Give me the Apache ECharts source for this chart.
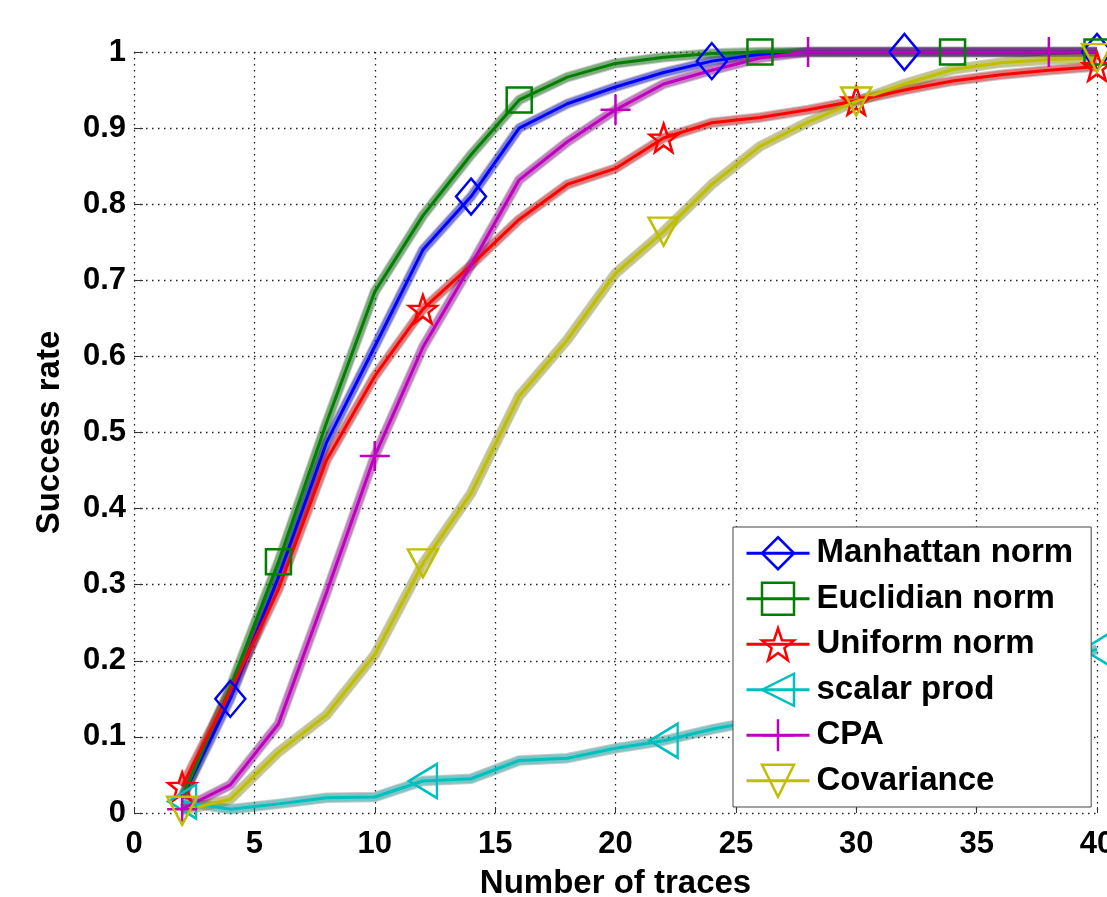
<!DOCTYPE html>
<html>
<head>
<meta charset="utf-8">
<script src="https://cdn.jsdelivr.net/npm/echarts@6/dist/echarts.min.js"></script>
<style>
html,body{margin:0;padding:0;background:#fff;}
#chart{width:1107px;height:897px;}
</style>
</head>
<body>
<div id="chart"></div>
<script>
// ---- data ----
const xValues = [2,4,6,8,10,12,14,16,18,20,22,24,26,28,30,32,34,36,38,40];
const seriesNames = ['Manhattan norm','Euclidian norm','Uniform norm','scalar prod','CPA','Covariance'];
const manhattan  = [0.02,0.15,0.31,0.487,0.613,0.74,0.81,0.90,0.932,0.954,0.973,0.988,0.997,1,1,1,1,1,1,1];
const euclidian  = [0.02,0.165,0.33,0.513,0.685,0.785,0.865,0.937,0.967,0.985,0.993,0.998,1,1,1,1,1,1,1,1];
const uniform    = [0.035,0.16,0.294,0.464,0.574,0.662,0.72,0.78,0.826,0.847,0.887,0.907,0.914,0.924,0.936,0.95,0.962,0.97,0.976,0.981];
const scalarProd = [0.015,0.005,0.012,0.02,0.021,0.042,0.045,0.069,0.072,0.085,0.095,0.11,0.122,0.133,0.146,0.158,0.17,0.184,0.199,0.215];
const cpa        = [0.005,0.037,0.117,0.29,0.469,0.612,0.72,0.832,0.882,0.924,0.958,0.976,0.992,1,1,1,1,1,1,1];
const covariance = [0.003,0.018,0.08,0.129,0.208,0.328,0.42,0.548,0.622,0.709,0.764,0.826,0.876,0.908,0.935,0.958,0.977,0.986,0.99,0.992];
// x positions at which each series shows its marker
const manhattanMarks  = [4,14,24,32,40];
const euclidianMarks  = [6,16,26,34,40];
const uniformMarks    = [2,12,22,30,40];
const scalarMarks     = [2,12,22,30,40];
const cpaMarks        = [2,10,20,28,38];
const covarianceMarks = [2,12,22,30,40];
const xTickLabels = ['0','5','10','15','20','25','30','35','40'];
const yTickLabels = ['0','0.1','0.2','0.3','0.4','0.5','0.6','0.7','0.8','0.9','1'];

// ---- styles ----
const FONT = '"Liberation Sans", Arial, Helvetica, sans-serif';
const styles = [
  {color:'#0000ff', band:'rgba(0,0,255,0.38)', symbol:'path://M0,-6L5,0L0,6L-5,0Z', size:[30,36]},
  {color:'#007f00', band:'rgba(0,127,0,0.38)', symbol:'path://M-1,-1L1,-1L1,1L-1,1Z', size:[25,25]},
  {color:'#ff0000', band:'rgba(255,0,0,0.38)', symbol:'path://M0,-100L23.5,-32.4L95.1,-30.9L38,12.4L58.8,80.9L0,40L-58.8,80.9L-38,12.4L-95.1,-30.9L-23.5,-32.4Z', size:[28,28]},
  {color:'#00bfbf', band:'rgba(0,191,191,0.38)', symbol:'path://M-1,0L1,-1.15L1,1.15Z', size:[28,34]},
  {color:'#bf00bf', band:'rgba(191,0,191,0.38)', symbol:'path://M0,-1L0,1M-1,0L1,0', size:[30,30]},
  {color:'#bfbf00', band:'rgba(191,191,0,0.38)', symbol:'path://M-1,-1L1,-1L0,1Z', size:[30,28]}
];
const values = [manhattan, euclidian, uniform, scalarProd, cpa, covariance];
const marks = [manhattanMarks, euclidianMarks, uniformMarks, scalarMarks, cpaMarks, covarianceMarks];

const series = [];
seriesNames.forEach((name, k) => {
  const st = styles[k];
  const pts = xValues.map((x, i) => [x, values[k][i]]);
  // outline of confidence band
  series.push({
    name: name + ' band edge', type: 'line', data: pts, symbol: 'none', clip: false, silent: true,
    lineStyle: {color: 'rgba(60,60,60,0.28)', width: 10.5, join: 'round'}, z: 2
  });
  series.push({
    name: name + ' band', type: 'line', data: pts, symbol: 'none', clip: false, silent: true,
    lineStyle: {color: st.band, width: 8.5, join: 'round'}, z: 2
  });
  series.push({
    name: name, type: 'line', clip: false,
    symbol: st.symbol, symbolSize: st.size, showSymbol: true, showAllSymbol: true,
    data: pts.map(p => marks[k].includes(p[0]) ? {value: p} : {value: p, symbol: 'none'}),
    lineStyle: {color: st.color, width: 3},
    itemStyle: {color: 'rgba(0,0,0,0)', borderColor: st.color, borderWidth: 2.5},
    z: 3
  });
});

const chart = echarts.init(document.getElementById('chart'), null, {renderer: 'canvas'});
chart.setOption({
  animation: false,
  backgroundColor: '#fff',
  grid: {left: 134, right: 10, top: 52, bottom: 84, containLabel: false, outerBoundsMode: 'none'},
  xAxis: {
    type: 'value', min: 0, max: 40, interval: 5,
    name: 'Number of traces', nameLocation: 'middle', nameGap: 54,
    nameTextStyle: {fontFamily: FONT, fontWeight: 'bold', fontSize: 33, color: '#000'},
    axisLine: {show: false},
    axisTick: {show: true, inside: true, length: 6, lineStyle: {color: '#333'}},
    axisLabel: {fontFamily: FONT, fontWeight: 'bold', fontSize: 31, color: '#000', margin: 16,
      formatter: (v) => xTickLabels[Math.round(v / 5)]},
    splitLine: {show: true, lineStyle: {color: '#222', width: 1.3, type: [1.5, 4.5]}}
  },
  yAxis: {
    type: 'value', min: 0, max: 1, interval: 0.1,
    name: 'Success rate', nameLocation: 'middle', nameGap: 68, nameRotate: 90,
    nameTextStyle: {fontFamily: FONT, fontWeight: 'bold', fontSize: 33, color: '#000'},
    axisLine: {show: false},
    axisTick: {show: true, inside: true, length: 9, lineStyle: {color: '#333'}},
    axisLabel: {fontFamily: FONT, fontWeight: 'bold', fontSize: 31, color: '#000', margin: 8,
      formatter: (v) => yTickLabels[Math.round(v * 10)]},
    splitLine: {show: true, lineStyle: {color: '#222', width: 1.3, type: [1.5, 4.5]}}
  },
  legend: {
    orient: 'vertical', left: 733, top: 527,
    padding: [9, 18, 9, 12], itemGap: 11, itemWidth: 63, itemHeight: 40,
    backgroundColor: '#fff', borderColor: '#444', borderWidth: 1,
    textStyle: {fontFamily: FONT, fontWeight: 'bold', fontSize: 33, color: '#000', padding: [0,0,0,2]},
    data: seriesNames.map((n, k) => ({
      name: n,
      itemStyle: {color: 'rgba(0,0,0,0)', borderColor: styles[k].color, borderWidth: 2.5},
      lineStyle: {color: styles[k].color, width: 3}
    }))
  },
  series: series
});
</script>
</body>
</html>
